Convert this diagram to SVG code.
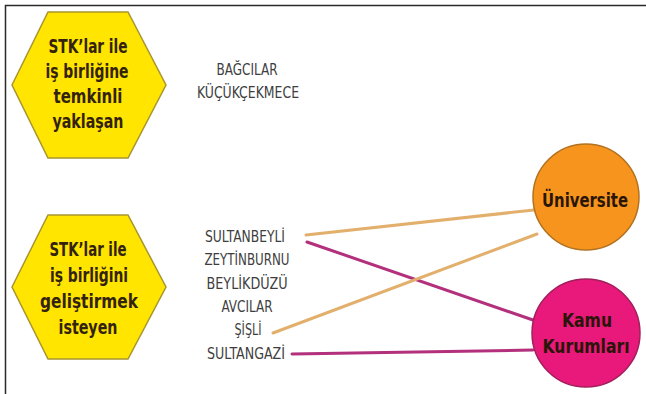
<svg xmlns="http://www.w3.org/2000/svg" width="646" height="394" viewBox="0 0 646 394">
<style>
.hex{fill:#FFE500;stroke:#a8952e;stroke-width:1.5}
.ht{font-family:"Liberation Sans Narrow","DejaVu Sans Condensed","Liberation Sans",sans-serif;font-weight:bold;font-size:20px;fill:#33220c;text-anchor:middle}
.ct{font-family:"Liberation Sans Narrow","DejaVu Sans Condensed","Liberation Sans",sans-serif;font-size:16px;fill:#3e3e3e;text-anchor:middle}
.nt{font-family:"Liberation Sans Narrow","DejaVu Sans Condensed","Liberation Sans",sans-serif;font-weight:bold;font-size:20px;fill:#2a1608;text-anchor:middle}
.or{stroke:#e2b06c;stroke-width:3;fill:none;stroke-linecap:round}
.mg{stroke:#b3307d;stroke-width:3;fill:none;stroke-linecap:round}
</style>
<rect x="0" y="0" width="646" height="394" fill="#ffffff"/>
<path d="M5.5 394 V5.5 H646" fill="none" stroke="#2a2a2a" stroke-width="1.5"/>

<g id="connectors">
<line class="or" x1="306" y1="235" x2="534" y2="210"/>
<line class="mg" x1="307" y1="242" x2="533" y2="320"/>
<line class="or" x1="273" y1="333" x2="537" y2="234"/>
<line class="mg" x1="292" y1="354" x2="533" y2="350"/>
</g>

<g id="hex-temkinli">
<polygon class="hex" points="12,85 48,12 128,12 166,85 128,158 48,158"/>
<text class="ht" x="88" y="53" textLength="79" lengthAdjust="spacingAndGlyphs">STK’lar ile</text>
<text class="ht" x="87" y="78" textLength="83" lengthAdjust="spacingAndGlyphs">iş birliğine</text>
<text class="ht" x="88" y="103" textLength="69" lengthAdjust="spacingAndGlyphs">temkinli</text>
<text class="ht" x="88" y="128" textLength="71" lengthAdjust="spacingAndGlyphs">yaklaşan</text>
</g>

<g id="list-temkinli">
<text class="ct" x="247" y="75" textLength="61" lengthAdjust="spacingAndGlyphs">BAĞCILAR</text>
<text class="ct" x="248" y="98" textLength="102" lengthAdjust="spacingAndGlyphs">KÜÇÜKÇEKMECE</text>
</g>

<g id="hex-gelistirmek">
<polygon class="hex" points="12,287 48,215 128,215 166,287 128,359 48,359"/>
<text class="ht" x="88" y="256" textLength="77" lengthAdjust="spacingAndGlyphs">STK’lar ile</text>
<text class="ht" x="89" y="282" textLength="78" lengthAdjust="spacingAndGlyphs">iş birliğini</text>
<text class="ht" x="89" y="308" textLength="98" lengthAdjust="spacingAndGlyphs">geliştirmek</text>
<text class="ht" x="88" y="334" textLength="59" lengthAdjust="spacingAndGlyphs">isteyen</text>
</g>

<g id="list-gelistirmek">
<text class="ct" x="245" y="242" textLength="80" lengthAdjust="spacingAndGlyphs">SULTANBEYLİ</text>
<text class="ct" x="247" y="265" textLength="85" lengthAdjust="spacingAndGlyphs">ZEYTİNBURNU</text>
<text class="ct" x="247" y="289" textLength="81" lengthAdjust="spacingAndGlyphs">BEYLİKDÜZÜ</text>
<text class="ct" x="247" y="312" textLength="51" lengthAdjust="spacingAndGlyphs">AVCILAR</text>
<text class="ct" x="248" y="335" textLength="27" lengthAdjust="spacingAndGlyphs">ŞİŞLİ</text>
<text class="ct" x="246" y="359" textLength="78" lengthAdjust="spacingAndGlyphs">SULTANGAZİ</text>
</g>

<g id="node-universite">
<circle cx="586" cy="197" r="53" fill="#F7941D" stroke="#b2721f" stroke-width="1.5"/>
<text class="nt" x="585" y="207" textLength="86" lengthAdjust="spacingAndGlyphs">Üniversite</text>
</g>

<g id="node-kamu">
<circle cx="586" cy="333" r="54" fill="#E8197A" stroke="#a21f5c" stroke-width="1.5"/>
<text class="nt" x="587" y="327" textLength="50" lengthAdjust="spacingAndGlyphs">Kamu</text>
<text class="nt" x="586" y="353" textLength="87" lengthAdjust="spacingAndGlyphs">Kurumları</text>
</g>
</svg>
